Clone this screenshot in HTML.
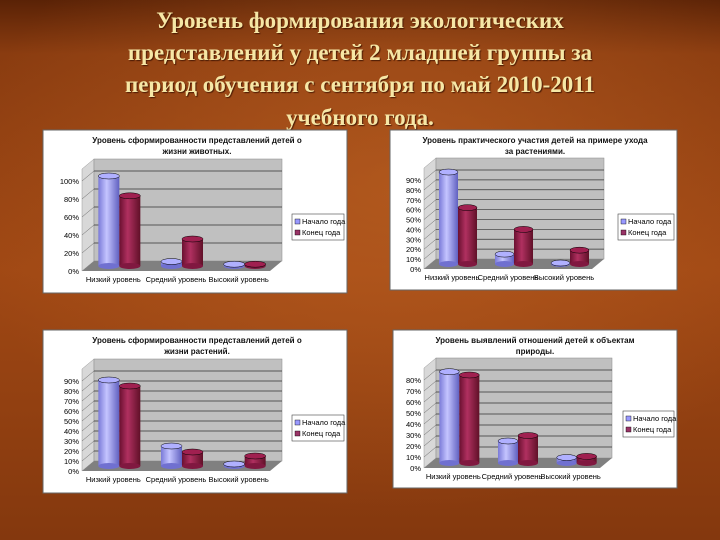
<!DOCTYPE html>
<html><head><meta charset="utf-8">
<style>
html,body{margin:0;padding:0;width:720px;height:540px;overflow:hidden;background:#8a3a10;}
svg{display:block}
.tt{font-family:"Liberation Serif","Noto Serif CJK SC",serif;font-weight:bold;font-size:23px;fill:#f6e7a6;}
.ct{font-family:"Liberation Sans",sans-serif;font-size:7.5px;fill:#000;}
.cb{font-family:"Liberation Sans",sans-serif;font-size:8px;font-weight:bold;fill:#111;}
</style></head><body>
<svg id="slide" width="720" height="540" viewBox="0 0 720 540" xmlns="http://www.w3.org/2000/svg">
<defs>
<linearGradient id="bg" x1="0" y1="0" x2="0" y2="1">
<stop offset="0" stop-color="#5a2206"/><stop offset="0.1" stop-color="#8a3c10"/><stop offset="0.5" stop-color="#a04814"/><stop offset="1" stop-color="#84380e"/>
</linearGradient>
<radialGradient id="glow" cx="0.55" cy="0.35" r="0.6"><stop offset="0" stop-color="#c06424" stop-opacity="0.6"/><stop offset="1" stop-color="#c06424" stop-opacity="0"/></radialGradient>
<linearGradient id="gb" x1="0" x2="1"><stop offset="0" stop-color="#7a7ad8"/><stop offset="0.4" stop-color="#c4c4ff"/><stop offset="1" stop-color="#6060c0"/></linearGradient>
<linearGradient id="gr" x1="0" x2="1"><stop offset="0" stop-color="#6a1030"/><stop offset="0.4" stop-color="#b03060"/><stop offset="1" stop-color="#601028"/></linearGradient>
</defs>
<rect width="720" height="540" fill="url(#bg)"/>
<rect width="720" height="540" fill="url(#glow)"/>
<g style="text-shadow:1px 1px 1px #4a1a04">
<text class="tt" x="360" y="28" text-anchor="middle">Уровень формирования экологических</text>
<text class="tt" x="360" y="60" text-anchor="middle">представлений у детей 2 младшей группы за</text>
<text class="tt" x="360" y="92" text-anchor="middle">период обучения с сентября по май 2010-2011</text>
<text class="tt" x="360" y="125" text-anchor="middle">учебного года.</text>
</g>
<g id="charts"></g>
</svg>
<script>
const categories = ["Низкий уровень","Средний уровень","Высокий уровень"];
const seriesNames = ["Начало года","Конец года"];
const c1Start = [100, 5, 2];
const c1End = [78, 30, 2];
const c2Start = [93, 10, 1];
const c2End = [57, 35, 14];
const c3Start = [86, 20, 2];
const c3End = [80, 14, 10];
const c4Start = [83, 20, 5];
const c4End = [80, 25, 6];
const c1Ticks = [0,20,40,60,80,100];
const c2Ticks = [0,10,20,30,40,50,60,70,80,90];
const c3Ticks = [0,10,20,30,40,50,60,70,80,90];
const c4Ticks = [0,10,20,30,40,50,60,70,80];
const c1Title = ["Уровень сформированности представлений детей о","жизни животных."];
const c2Title = ["Уровень практического участия детей на примере ухода","за растениями."];
const c3Title = ["Уровень сформированности представлений детей о","жизни растений."];
const c4Title = ["Уровень выявлений отношений детей к объектам","природы."];

const NS="http://www.w3.org/2000/svg";
const root=document.getElementById('charts');
function mk(tag,attrs,parent){const e=document.createElementNS(NS,tag);for(const k in attrs)e.setAttribute(k,attrs[k]);(parent||root).appendChild(e);return e;}

function chart(id,L,start,end,ticks,title){
  const g=mk('g',{});
  
  
  mk('rect',{x:L.x,y:L.y,width:L.w,height:L.h,fill:'#fff',stroke:'#666','stroke-width':1},g);
  title.forEach((t,i)=>{const tx=mk('text',{x:L.tx,y:L.y+13+i*11,'text-anchor':'middle',class:'cb'},g);tx.textContent=t;
    
    });
  const max=ticks[ticks.length-1];
  const dx=12, dy=10;
  const fl=L.fl, fr=L.fr, y0=L.y0, yt=L.yt;
  const ys=v=>y0-(v/max)*(y0-yt);
  mk('polygon',{points:`${fl},${y0} ${fl+dx},${y0-dy} ${fl+dx},${yt-dy-12} ${fl},${yt-12}`,fill:'#d8d8d8',stroke:'#999','stroke-width':0.5},g);
  mk('rect',{x:fl+dx,y:yt-dy-12,width:fr-fl,height:y0-yt+12,fill:'#c0c0c0',stroke:'#888','stroke-width':0.5},g);
  mk('polygon',{points:`${fl},${y0} ${fr},${y0} ${fr+dx},${y0-dy} ${fl+dx},${y0-dy}`,fill:'#808080'},g);
  ticks.forEach(t=>{
    const y=ys(t);
    if(t>0){const ln=mk('line',{x1:fl+dx,x2:fr+dx,y1:y-dy,y2:y-dy,stroke:'#333','stroke-width':0.7},g);
      
      
      mk('line',{x1:fl,x2:fl+dx,y1:y,y2:y-dy,stroke:'#666','stroke-width':0.5},g);}
    const tx=mk('text',{x:fl-3,y:y+3,'text-anchor':'end',class:'ct'},g);tx.textContent=t+'%';
    
    
  });
  const cw=(fr-fl)/3, bw=L.bw;
  categories.forEach((c,i)=>{
    const cx=fl+cw*(i+0.5)+dx/2;
    [start[i],end[i]].forEach((v,s)=>{
      const bx=cx+(s===0?-bw:0);
      const by0=y0-dy/2, top=ys(v)-dy/2;
      const grp=mk('g',{},g);
      
      
      mk('rect',{x:bx,y:top,width:bw,height:Math.max(0,by0-top),fill:s===0?'url(#gb)':'url(#gr)'},grp);
      mk('ellipse',{cx:bx+bw/2,cy:by0,rx:bw/2,ry:3,fill:s===0?'#7070d0':'#801840'},grp);
      mk('ellipse',{cx:bx+bw/2,cy:top,rx:bw/2,ry:3,fill:s===0?'#b0b0ff':'#a02050',stroke:'#000','stroke-width':0.5},grp);
    });
    const tx=mk('text',{x:fl+cw*(i+0.5),y:y0+11,'text-anchor':'middle',class:'ct'},g);tx.textContent=c;
    
    
  });
  const lg=mk('g',{},g);
  
  
  mk('rect',{x:L.lx,y:L.ly,width:L.w+L.x-L.lx-3,height:26,fill:'#fff',stroke:'#444','stroke-width':0.6},lg);
  seriesNames.forEach((n,s)=>{
    mk('rect',{x:L.lx+3,y:L.ly+5+s*11,width:5,height:5,fill:s===0?'#9999ff':'#993366',stroke:'#000','stroke-width':0.4},lg);
    const tx=mk('text',{x:L.lx+10,y:L.ly+10+s*11,class:'ct'},lg);tx.textContent=n;
    
    
  });
}
chart('chart-animals',{x:43,y:130,w:304,h:163,tx:197,fl:82,fr:270,y0:271,yt:181,bw:21,lx:292,ly:214},c1Start,c1End,c1Ticks,c1Title);
chart('chart-plant-care',{x:390,y:130,w:287,h:160,tx:535,fl:424,fr:592,y0:269,yt:180,bw:19,lx:618,ly:214},c2Start,c2End,c2Ticks,c2Title);
chart('chart-plants',{x:43,y:330,w:304,h:163,tx:197,fl:82,fr:270,y0:471,yt:381,bw:21,lx:292,ly:415},c3Start,c3End,c3Ticks,c3Title);
chart('chart-nature',{x:393,y:330,w:284,h:158,tx:535,fl:424,fr:600,y0:468,yt:380,bw:20,lx:623,ly:411},c4Start,c4End,c4Ticks,c4Title);
</script>
</body></html>
